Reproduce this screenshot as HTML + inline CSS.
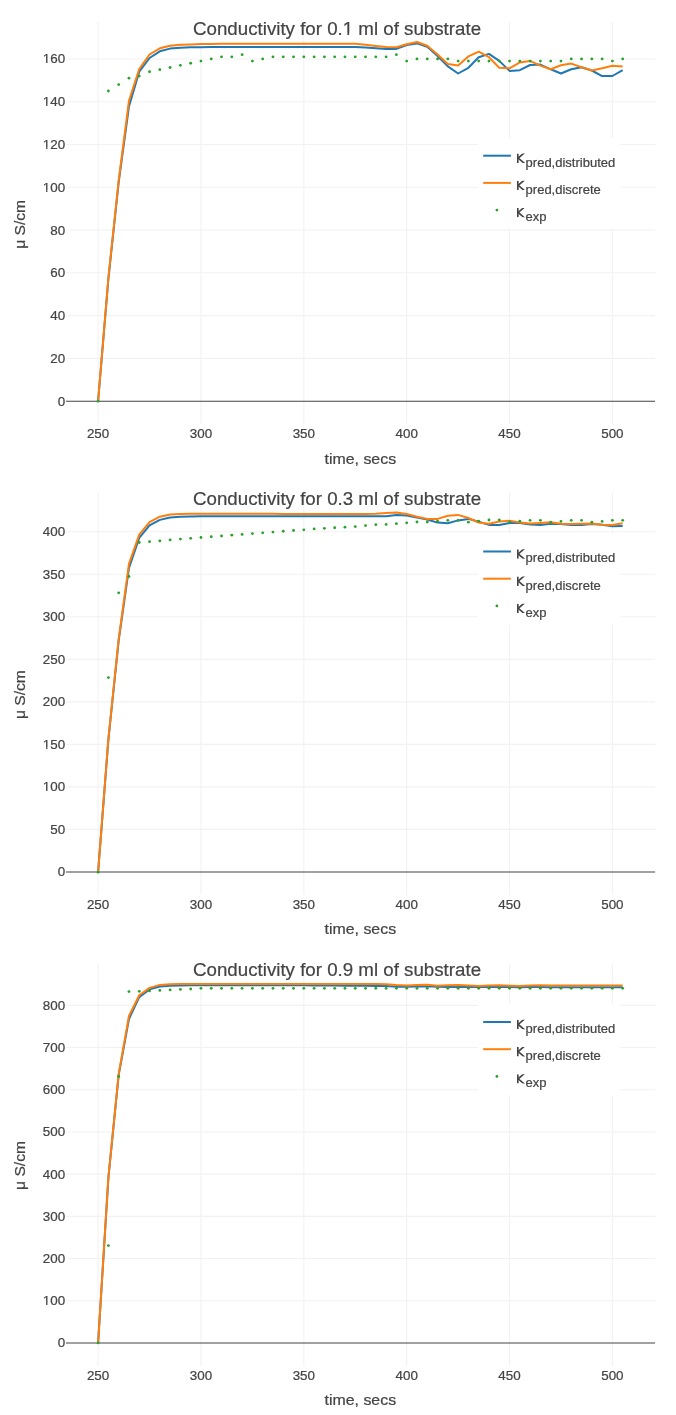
<!DOCTYPE html>
<html><head><meta charset="utf-8"><title>Conductivity</title>
<style>html,body{margin:0;padding:0;background:#fff}body{width:676px;height:1415px;overflow:hidden}svg{will-change:transform}text{stroke:#444;stroke-width:0.22px}</style>
</head><body>
<svg width="676" height="1415" viewBox="0 0 676 1415" style="display:block;font-family:'Liberation Sans',sans-serif">
<defs><clipPath id="kc"><rect x="-0.2" y="-9.4" width="9" height="9.4"/></clipPath></defs>
<rect width="676" height="1415" fill="#fff"/>
<path d="M98.10,22.00V423.85M200.96,22.00V423.85M303.82,22.00V423.85M406.68,22.00V423.85M509.54,22.00V423.85M612.40,22.00V423.85M66.00,358.37H655.10M66.00,315.60H655.10M66.00,272.82H655.10M66.00,230.05H655.10M66.00,187.27H655.10M66.00,144.49H655.10M66.00,101.72H655.10M66.00,58.94H655.10" stroke="#f2f2f2" stroke-width="1.08" fill="none"/>
<path d="M66.00,401.15H655.10" stroke="#444444" stroke-width="1.05" fill="none"/>
<polyline points="98.10,401.10 108.39,278.80 118.67,182.30 128.96,106.50 139.24,71.70 149.53,58.00 159.82,51.30 170.10,48.60 180.39,47.70 190.67,47.30 200.96,47.15 211.25,47.05 221.53,47.00 231.82,47.00 242.10,47.00 252.39,47.00 262.68,47.00 272.96,47.00 283.25,47.00 293.53,47.00 303.82,47.00 314.11,47.00 324.39,47.00 334.68,47.00 344.96,47.00 355.25,46.95 365.54,47.50 375.82,48.30 386.11,48.90 396.39,48.90 406.68,45.10 416.97,43.40 427.25,46.80 437.54,56.00 447.82,66.40 458.11,73.50 468.40,67.80 478.68,57.20 488.97,53.90 499.25,60.90 509.54,70.90 519.83,70.20 530.11,65.00 540.40,64.60 550.68,69.30 560.97,73.50 571.26,69.30 581.54,67.20 591.83,70.50 602.11,76.10 612.40,76.00 622.69,70.10" fill="none" stroke="#1f77b4" stroke-width="2.0" stroke-linejoin="round" stroke-linecap="butt"/>
<polyline points="98.10,401.10 108.39,277.80 118.67,180.50 128.96,100.80 139.24,69.00 149.53,54.50 159.82,48.30 170.10,45.70 180.39,44.80 190.67,44.40 200.96,44.10 211.25,43.95 221.53,43.85 231.82,43.80 242.10,43.80 252.39,43.80 262.68,43.80 272.96,43.80 283.25,43.80 293.53,43.80 303.82,43.80 314.11,43.80 324.39,43.80 334.68,43.80 344.96,43.80 355.25,43.80 365.54,44.80 375.82,45.90 386.11,46.90 396.39,47.20 406.68,44.20 416.97,42.00 427.25,45.70 437.54,54.50 447.82,64.10 458.11,65.60 468.40,56.40 478.68,51.70 488.97,57.20 499.25,67.80 509.54,68.30 519.83,62.40 530.11,60.90 540.40,65.60 550.68,69.30 560.97,65.30 571.26,63.60 581.54,67.20 591.83,70.50 602.11,68.30 612.40,65.80 622.69,66.50" fill="none" stroke="#ff7f0e" stroke-width="2.0" stroke-linejoin="round" stroke-linecap="butt"/>
<g fill="#2ca02c"><circle cx="98.10" cy="401.15" r="1.42"/><circle cx="108.39" cy="91.02" r="1.42"/><circle cx="118.67" cy="84.61" r="1.42"/><circle cx="128.96" cy="78.19" r="1.42"/><circle cx="139.24" cy="76.05" r="1.42"/><circle cx="149.53" cy="71.77" r="1.42"/><circle cx="159.82" cy="69.64" r="1.42"/><circle cx="170.10" cy="67.50" r="1.42"/><circle cx="180.39" cy="65.36" r="1.42"/><circle cx="190.67" cy="63.22" r="1.42"/><circle cx="200.96" cy="61.08" r="1.42"/><circle cx="211.25" cy="58.94" r="1.42"/><circle cx="221.53" cy="56.80" r="1.42"/><circle cx="231.82" cy="56.80" r="1.42"/><circle cx="242.10" cy="54.66" r="1.42"/><circle cx="252.39" cy="61.08" r="1.42"/><circle cx="262.68" cy="58.94" r="1.42"/><circle cx="272.96" cy="56.80" r="1.42"/><circle cx="283.25" cy="56.80" r="1.42"/><circle cx="293.53" cy="56.80" r="1.42"/><circle cx="303.82" cy="56.80" r="1.42"/><circle cx="314.11" cy="56.80" r="1.42"/><circle cx="324.39" cy="56.80" r="1.42"/><circle cx="334.68" cy="56.80" r="1.42"/><circle cx="344.96" cy="56.80" r="1.42"/><circle cx="355.25" cy="56.80" r="1.42"/><circle cx="365.54" cy="56.80" r="1.42"/><circle cx="375.82" cy="56.80" r="1.42"/><circle cx="386.11" cy="56.80" r="1.42"/><circle cx="396.39" cy="54.66" r="1.42"/><circle cx="406.68" cy="61.08" r="1.42"/><circle cx="416.97" cy="58.94" r="1.42"/><circle cx="427.25" cy="58.94" r="1.42"/><circle cx="437.54" cy="58.94" r="1.42"/><circle cx="447.82" cy="58.94" r="1.42"/><circle cx="458.11" cy="61.08" r="1.42"/><circle cx="468.40" cy="61.08" r="1.42"/><circle cx="478.68" cy="61.08" r="1.42"/><circle cx="488.97" cy="61.08" r="1.42"/><circle cx="499.25" cy="61.08" r="1.42"/><circle cx="509.54" cy="61.08" r="1.42"/><circle cx="519.83" cy="61.08" r="1.42"/><circle cx="530.11" cy="61.08" r="1.42"/><circle cx="540.40" cy="61.08" r="1.42"/><circle cx="550.68" cy="61.08" r="1.42"/><circle cx="560.97" cy="61.08" r="1.42"/><circle cx="571.26" cy="58.94" r="1.42"/><circle cx="581.54" cy="58.94" r="1.42"/><circle cx="591.83" cy="58.94" r="1.42"/><circle cx="602.11" cy="58.94" r="1.42"/><circle cx="612.40" cy="61.08" r="1.42"/><circle cx="622.69" cy="58.94" r="1.42"/></g>
<g font-size="13.4" fill="#444444" text-anchor="middle"><text x="98.10" y="438.20">250</text><text x="200.96" y="438.20">300</text><text x="303.82" y="438.20">350</text><text x="406.68" y="438.20">400</text><text x="509.54" y="438.20">450</text><text x="612.40" y="438.20">500</text></g>
<g font-size="13.4" fill="#444444" text-anchor="end"><text x="65.2" y="405.65">0</text><text x="65.2" y="362.87">20</text><text x="65.2" y="320.10">40</text><text x="65.2" y="277.32">60</text><text x="65.2" y="234.55">80</text><text x="65.2" y="191.77">100</text><text x="65.2" y="148.99">120</text><text x="65.2" y="106.22">140</text><text x="65.2" y="63.44">160</text></g>
<rect x="42.44" y="190.36" width="3.71" height="2.14" fill="#fff"/><rect x="47.44" y="190.36" width="2.64" height="2.14" fill="#fff"/>
<rect x="42.44" y="147.59" width="3.71" height="2.14" fill="#fff"/><rect x="47.44" y="147.59" width="2.64" height="2.14" fill="#fff"/>
<rect x="42.44" y="104.81" width="3.71" height="2.14" fill="#fff"/><rect x="47.44" y="104.81" width="2.64" height="2.14" fill="#fff"/>
<rect x="42.44" y="62.04" width="3.71" height="2.14" fill="#fff"/><rect x="47.44" y="62.04" width="2.64" height="2.14" fill="#fff"/>
<text x="337.05" y="34.80" font-size="19.1" fill="#444444" text-anchor="middle" textLength="288" lengthAdjust="spacingAndGlyphs">Conductivity for 0.1 ml of substrate</text>
<rect x="342.20" y="32.79" width="5.18" height="3.06" fill="#fff"/><rect x="349.18" y="32.79" width="3.69" height="3.06" fill="#fff"/>
<text x="360.3" y="463.70" font-size="14.8" fill="#444444" text-anchor="middle" textLength="71.6" lengthAdjust="spacingAndGlyphs">time, secs</text>
<text transform="translate(24.65,224.35) rotate(-90)" font-size="15.3" fill="#444444" text-anchor="middle" textLength="48.9" lengthAdjust="spacingAndGlyphs">μ S/cm</text>
<rect x="477.9" y="138.00" width="142.4" height="91.1" fill="#fff"/>
<path d="M483.2,155.70H510.9" stroke="#1f77b4" stroke-width="2.0" fill="none"/>
<g transform="translate(516.9,162.90)" clip-path="url(#kc)" stroke="#444444" stroke-width="1.65" fill="none" stroke-linejoin="miter"><path d="M0.9,-9.4V0"/><path d="M7.66,-10.32L1.3,-4.8L8.02,0.96"/></g>
<text x="525.6" y="166.50" fill="#444444" font-size="13">pred,distributed</text>
<path d="M483.2,182.90H510.9" stroke="#ff7f0e" stroke-width="2.0" fill="none"/>
<g transform="translate(516.9,190.10)" clip-path="url(#kc)" stroke="#444444" stroke-width="1.65" fill="none" stroke-linejoin="miter"><path d="M0.9,-9.4V0"/><path d="M7.66,-10.32L1.3,-4.8L8.02,0.96"/></g>
<text x="525.6" y="193.70" fill="#444444" font-size="13">pred,discrete</text>
<circle cx="496.9" cy="210.10" r="1.4" fill="#2ca02c"/>
<g transform="translate(516.9,217.30)" clip-path="url(#kc)" stroke="#444444" stroke-width="1.65" fill="none" stroke-linejoin="miter"><path d="M0.9,-9.4V0"/><path d="M7.66,-10.32L1.3,-4.8L8.02,0.96"/></g>
<text x="525.6" y="220.90" fill="#444444" font-size="13">exp</text>
<path d="M98.10,492.85V894.70M200.96,492.85V894.70M303.82,492.85V894.70M406.68,492.85V894.70M509.54,492.85V894.70M612.40,492.85V894.70M66.00,829.39H655.10M66.00,786.88H655.10M66.00,744.36H655.10M66.00,701.85H655.10M66.00,659.34H655.10M66.00,616.83H655.10M66.00,574.31H655.10M66.00,531.80H655.10" stroke="#f2f2f2" stroke-width="1.08" fill="none"/>
<path d="M66.00,871.90H655.10" stroke="#444444" stroke-width="1.05" fill="none"/>
<polyline points="98.10,872.20 108.39,739.70 118.67,640.70 128.96,568.00 139.24,537.90 149.53,525.30 159.82,519.90 170.10,517.50 180.39,516.70 190.67,516.40 200.96,516.30 211.25,516.30 221.53,516.30 231.82,516.30 242.10,516.30 252.39,516.30 262.68,516.30 272.96,516.30 283.25,516.30 293.53,516.30 303.82,516.30 314.11,516.30 324.39,516.30 334.68,516.30 344.96,516.30 355.25,516.30 365.54,516.30 375.82,516.30 386.11,516.30 396.39,515.10 406.68,515.40 416.97,517.50 427.25,519.50 437.54,522.60 447.82,523.20 458.11,520.40 468.40,518.90 478.68,521.70 488.97,524.90 499.25,525.10 509.54,522.90 519.83,522.90 530.11,524.50 540.40,525.10 550.68,523.70 560.97,524.00 571.26,525.10 581.54,524.90 591.83,524.10 602.11,524.70 612.40,526.20 622.69,525.90" fill="none" stroke="#1f77b4" stroke-width="2.0" stroke-linejoin="round" stroke-linecap="butt"/>
<polyline points="98.10,872.20 108.39,738.70 118.67,639.20 128.96,563.80 139.24,534.60 149.53,522.10 159.82,516.70 170.10,514.60 180.39,513.90 190.67,513.70 200.96,513.70 211.25,513.70 221.53,513.70 231.82,513.80 242.10,513.80 252.39,513.80 262.68,513.80 272.96,513.80 283.25,513.90 293.53,513.90 303.82,513.90 314.11,513.90 324.39,514.00 334.68,514.00 344.96,514.00 355.25,514.05 365.54,513.90 375.82,513.80 386.11,512.90 396.39,512.60 406.68,514.05 416.97,516.70 427.25,518.90 437.54,518.90 447.82,515.80 458.11,514.90 468.40,518.00 478.68,522.50 488.97,523.70 499.25,521.40 509.54,520.70 519.83,522.50 530.11,523.50 540.40,522.90 550.68,522.20 560.97,523.70 571.26,524.10 581.54,523.70 591.83,523.40 602.11,524.70 612.40,525.10 622.69,523.20" fill="none" stroke="#ff7f0e" stroke-width="2.0" stroke-linejoin="round" stroke-linecap="butt"/>
<g fill="#2ca02c"><circle cx="98.10" cy="872.20" r="1.42"/><circle cx="108.39" cy="677.60" r="1.42"/><circle cx="118.67" cy="592.80" r="1.42"/><circle cx="128.96" cy="576.50" r="1.42"/><circle cx="139.24" cy="542.50" r="1.42"/><circle cx="149.53" cy="541.70" r="1.42"/><circle cx="159.82" cy="540.90" r="1.42"/><circle cx="170.10" cy="539.90" r="1.42"/><circle cx="180.39" cy="539.10" r="1.42"/><circle cx="190.67" cy="538.30" r="1.42"/><circle cx="200.96" cy="537.52" r="1.42"/><circle cx="211.25" cy="536.74" r="1.42"/><circle cx="221.53" cy="535.96" r="1.42"/><circle cx="231.82" cy="535.18" r="1.42"/><circle cx="242.10" cy="534.40" r="1.42"/><circle cx="252.39" cy="533.62" r="1.42"/><circle cx="262.68" cy="532.84" r="1.42"/><circle cx="272.96" cy="532.06" r="1.42"/><circle cx="283.25" cy="531.28" r="1.42"/><circle cx="293.53" cy="530.50" r="1.42"/><circle cx="303.82" cy="529.80" r="1.42"/><circle cx="314.11" cy="528.90" r="1.42"/><circle cx="324.39" cy="528.33" r="1.42"/><circle cx="334.68" cy="527.75" r="1.42"/><circle cx="344.96" cy="527.17" r="1.42"/><circle cx="355.25" cy="526.60" r="1.42"/><circle cx="365.54" cy="525.60" r="1.42"/><circle cx="375.82" cy="524.70" r="1.42"/><circle cx="386.11" cy="524.40" r="1.42"/><circle cx="396.39" cy="523.70" r="1.42"/><circle cx="406.68" cy="522.80" r="1.42"/><circle cx="416.97" cy="522.00" r="1.42"/><circle cx="427.25" cy="522.00" r="1.42"/><circle cx="437.54" cy="521.20" r="1.42"/><circle cx="447.82" cy="520.30" r="1.42"/><circle cx="458.11" cy="520.30" r="1.42"/><circle cx="468.40" cy="522.20" r="1.42"/><circle cx="478.68" cy="521.20" r="1.42"/><circle cx="488.97" cy="520.00" r="1.42"/><circle cx="499.25" cy="520.00" r="1.42"/><circle cx="509.54" cy="521.90" r="1.42"/><circle cx="519.83" cy="521.20" r="1.42"/><circle cx="530.11" cy="520.30" r="1.42"/><circle cx="540.40" cy="520.30" r="1.42"/><circle cx="550.68" cy="522.20" r="1.42"/><circle cx="560.97" cy="521.40" r="1.42"/><circle cx="571.26" cy="520.30" r="1.42"/><circle cx="581.54" cy="520.30" r="1.42"/><circle cx="591.83" cy="522.20" r="1.42"/><circle cx="602.11" cy="521.40" r="1.42"/><circle cx="612.40" cy="520.30" r="1.42"/><circle cx="622.69" cy="520.30" r="1.42"/></g>
<g font-size="13.4" fill="#444444" text-anchor="middle"><text x="98.10" y="908.90">250</text><text x="200.96" y="908.90">300</text><text x="303.82" y="908.90">350</text><text x="406.68" y="908.90">400</text><text x="509.54" y="908.90">450</text><text x="612.40" y="908.90">500</text></g>
<g font-size="13.4" fill="#444444" text-anchor="end"><text x="65.2" y="876.40">0</text><text x="65.2" y="833.89">50</text><text x="65.2" y="791.38">100</text><text x="65.2" y="748.86">150</text><text x="65.2" y="706.35">200</text><text x="65.2" y="663.84">250</text><text x="65.2" y="621.33">300</text><text x="65.2" y="578.81">350</text><text x="65.2" y="536.30">400</text></g>
<rect x="42.44" y="789.97" width="3.71" height="2.14" fill="#fff"/><rect x="47.44" y="789.97" width="2.64" height="2.14" fill="#fff"/>
<rect x="42.44" y="747.46" width="3.71" height="2.14" fill="#fff"/><rect x="47.44" y="747.46" width="2.64" height="2.14" fill="#fff"/>
<text x="337.05" y="505.00" font-size="19.1" fill="#444444" text-anchor="middle" textLength="288" lengthAdjust="spacingAndGlyphs">Conductivity for 0.3 ml of substrate</text>
<text x="360.3" y="933.85" font-size="14.8" fill="#444444" text-anchor="middle" textLength="71.6" lengthAdjust="spacingAndGlyphs">time, secs</text>
<text transform="translate(24.65,694.65) rotate(-90)" font-size="15.3" fill="#444444" text-anchor="middle" textLength="48.9" lengthAdjust="spacingAndGlyphs">μ S/cm</text>
<rect x="477.9" y="533.80" width="142.4" height="91.1" fill="#fff"/>
<path d="M483.2,551.50H510.9" stroke="#1f77b4" stroke-width="2.0" fill="none"/>
<g transform="translate(516.9,558.70)" clip-path="url(#kc)" stroke="#444444" stroke-width="1.65" fill="none" stroke-linejoin="miter"><path d="M0.9,-9.4V0"/><path d="M7.66,-10.32L1.3,-4.8L8.02,0.96"/></g>
<text x="525.6" y="562.30" fill="#444444" font-size="13">pred,distributed</text>
<path d="M483.2,578.70H510.9" stroke="#ff7f0e" stroke-width="2.0" fill="none"/>
<g transform="translate(516.9,585.90)" clip-path="url(#kc)" stroke="#444444" stroke-width="1.65" fill="none" stroke-linejoin="miter"><path d="M0.9,-9.4V0"/><path d="M7.66,-10.32L1.3,-4.8L8.02,0.96"/></g>
<text x="525.6" y="589.50" fill="#444444" font-size="13">pred,discrete</text>
<circle cx="496.9" cy="605.90" r="1.4" fill="#2ca02c"/>
<g transform="translate(516.9,613.10)" clip-path="url(#kc)" stroke="#444444" stroke-width="1.65" fill="none" stroke-linejoin="miter"><path d="M0.9,-9.4V0"/><path d="M7.66,-10.32L1.3,-4.8L8.02,0.96"/></g>
<text x="525.6" y="616.70" fill="#444444" font-size="13">exp</text>
<path d="M98.10,963.70V1365.70M200.96,963.70V1365.70M303.82,963.70V1365.70M406.68,963.70V1365.70M509.54,963.70V1365.70M612.40,963.70V1365.70M66.00,1300.71H655.10M66.00,1258.52H655.10M66.00,1216.34H655.10M66.00,1174.15H655.10M66.00,1131.96H655.10M66.00,1089.77H655.10M66.00,1047.58H655.10M66.00,1005.40H655.10" stroke="#f2f2f2" stroke-width="1.08" fill="none"/>
<path d="M66.00,1342.90H655.10" stroke="#444444" stroke-width="1.05" fill="none"/>
<polyline points="98.10,1342.90 108.39,1177.90 118.67,1075.10 128.96,1019.00 139.24,997.10 149.53,989.40 159.82,986.50 170.10,985.70 180.39,985.40 190.67,985.20 200.96,985.20 211.25,985.20 221.53,985.20 231.82,985.20 242.10,985.20 252.39,985.20 262.68,985.20 272.96,985.20 283.25,985.20 293.53,985.20 303.82,985.30 314.11,985.40 324.39,985.50 334.68,985.60 344.96,985.70 355.25,985.80 365.54,985.80 375.82,985.90 386.11,986.00 396.39,986.70 406.68,986.70 416.97,986.60 427.25,986.30 437.54,986.80 447.82,986.90 458.11,986.80 468.40,987.00 478.68,987.10 488.97,987.00 499.25,987.00 509.54,987.10 519.83,987.20 530.11,987.10 540.40,987.10 550.68,987.20 560.97,987.20 571.26,987.20 581.54,987.20 591.83,987.20 602.11,987.20 612.40,987.20 622.69,987.20" fill="none" stroke="#1f77b4" stroke-width="2.0" stroke-linejoin="round" stroke-linecap="butt"/>
<polyline points="98.10,1342.90 108.39,1177.10 118.67,1074.10 128.96,1016.00 139.24,995.30 149.53,987.90 159.82,984.90 170.10,984.20 180.39,984.00 190.67,983.90 200.96,983.90 211.25,983.90 221.53,983.90 231.82,983.90 242.10,983.90 252.39,983.90 262.68,983.90 272.96,983.90 283.25,983.90 293.53,983.90 303.82,983.90 314.11,983.90 324.39,983.90 334.68,983.90 344.96,983.90 355.25,983.95 365.54,984.00 375.82,984.10 386.11,984.30 396.39,985.10 406.68,985.40 416.97,984.90 427.25,984.80 437.54,985.80 447.82,985.30 458.11,985.00 468.40,985.60 478.68,986.00 488.97,985.40 499.25,985.30 509.54,985.70 519.83,986.00 530.11,985.40 540.40,985.30 550.68,985.50 560.97,985.50 571.26,985.40 581.54,985.40 591.83,985.50 602.11,985.50 612.40,985.50 622.69,985.40" fill="none" stroke="#ff7f0e" stroke-width="2.0" stroke-linejoin="round" stroke-linecap="butt"/>
<g fill="#2ca02c"><circle cx="98.10" cy="1342.90" r="1.42"/><circle cx="108.39" cy="1245.60" r="1.42"/><circle cx="118.67" cy="1076.40" r="1.42"/><circle cx="128.96" cy="991.60" r="1.42"/><circle cx="139.24" cy="991.30" r="1.42"/><circle cx="149.53" cy="990.90" r="1.42"/><circle cx="159.82" cy="990.40" r="1.42"/><circle cx="170.10" cy="989.90" r="1.42"/><circle cx="180.39" cy="989.40" r="1.42"/><circle cx="190.67" cy="989.00" r="1.42"/><circle cx="200.96" cy="988.30" r="1.42"/><circle cx="211.25" cy="988.30" r="1.42"/><circle cx="221.53" cy="988.30" r="1.42"/><circle cx="231.82" cy="988.30" r="1.42"/><circle cx="242.10" cy="988.30" r="1.42"/><circle cx="252.39" cy="988.30" r="1.42"/><circle cx="262.68" cy="988.30" r="1.42"/><circle cx="272.96" cy="988.30" r="1.42"/><circle cx="283.25" cy="988.30" r="1.42"/><circle cx="293.53" cy="988.30" r="1.42"/><circle cx="303.82" cy="988.30" r="1.42"/><circle cx="314.11" cy="988.30" r="1.42"/><circle cx="324.39" cy="988.30" r="1.42"/><circle cx="334.68" cy="988.30" r="1.42"/><circle cx="344.96" cy="988.30" r="1.42"/><circle cx="355.25" cy="988.30" r="1.42"/><circle cx="365.54" cy="988.30" r="1.42"/><circle cx="375.82" cy="988.30" r="1.42"/><circle cx="386.11" cy="988.30" r="1.42"/><circle cx="396.39" cy="988.30" r="1.42"/><circle cx="406.68" cy="988.30" r="1.42"/><circle cx="416.97" cy="988.30" r="1.42"/><circle cx="427.25" cy="988.30" r="1.42"/><circle cx="437.54" cy="988.30" r="1.42"/><circle cx="447.82" cy="988.30" r="1.42"/><circle cx="458.11" cy="988.30" r="1.42"/><circle cx="468.40" cy="988.30" r="1.42"/><circle cx="478.68" cy="988.30" r="1.42"/><circle cx="488.97" cy="988.30" r="1.42"/><circle cx="499.25" cy="988.30" r="1.42"/><circle cx="509.54" cy="988.30" r="1.42"/><circle cx="519.83" cy="988.30" r="1.42"/><circle cx="530.11" cy="988.30" r="1.42"/><circle cx="540.40" cy="988.30" r="1.42"/><circle cx="550.68" cy="988.30" r="1.42"/><circle cx="560.97" cy="988.30" r="1.42"/><circle cx="571.26" cy="988.30" r="1.42"/><circle cx="581.54" cy="988.30" r="1.42"/><circle cx="591.83" cy="988.30" r="1.42"/><circle cx="602.11" cy="988.30" r="1.42"/><circle cx="612.40" cy="988.30" r="1.42"/><circle cx="622.69" cy="988.30" r="1.42"/></g>
<g font-size="13.4" fill="#444444" text-anchor="middle"><text x="98.10" y="1379.80">250</text><text x="200.96" y="1379.80">300</text><text x="303.82" y="1379.80">350</text><text x="406.68" y="1379.80">400</text><text x="509.54" y="1379.80">450</text><text x="612.40" y="1379.80">500</text></g>
<g font-size="13.4" fill="#444444" text-anchor="end"><text x="65.2" y="1347.40">0</text><text x="65.2" y="1305.21">100</text><text x="65.2" y="1263.02">200</text><text x="65.2" y="1220.84">300</text><text x="65.2" y="1178.65">400</text><text x="65.2" y="1136.46">500</text><text x="65.2" y="1094.27">600</text><text x="65.2" y="1052.08">700</text><text x="65.2" y="1009.90">800</text></g>
<rect x="42.44" y="1303.81" width="3.71" height="2.14" fill="#fff"/><rect x="47.44" y="1303.81" width="2.64" height="2.14" fill="#fff"/>
<text x="337.05" y="975.90" font-size="19.1" fill="#444444" text-anchor="middle" textLength="288" lengthAdjust="spacingAndGlyphs">Conductivity for 0.9 ml of substrate</text>
<text x="360.3" y="1405.30" font-size="14.8" fill="#444444" text-anchor="middle" textLength="71.6" lengthAdjust="spacingAndGlyphs">time, secs</text>
<text transform="translate(24.65,1165.50) rotate(-90)" font-size="15.3" fill="#444444" text-anchor="middle" textLength="48.9" lengthAdjust="spacingAndGlyphs">μ S/cm</text>
<rect x="477.9" y="1004.30" width="142.4" height="91.1" fill="#fff"/>
<path d="M483.2,1022.00H510.9" stroke="#1f77b4" stroke-width="2.0" fill="none"/>
<g transform="translate(516.9,1029.20)" clip-path="url(#kc)" stroke="#444444" stroke-width="1.65" fill="none" stroke-linejoin="miter"><path d="M0.9,-9.4V0"/><path d="M7.66,-10.32L1.3,-4.8L8.02,0.96"/></g>
<text x="525.6" y="1032.80" fill="#444444" font-size="13">pred,distributed</text>
<path d="M483.2,1049.20H510.9" stroke="#ff7f0e" stroke-width="2.0" fill="none"/>
<g transform="translate(516.9,1056.40)" clip-path="url(#kc)" stroke="#444444" stroke-width="1.65" fill="none" stroke-linejoin="miter"><path d="M0.9,-9.4V0"/><path d="M7.66,-10.32L1.3,-4.8L8.02,0.96"/></g>
<text x="525.6" y="1060.00" fill="#444444" font-size="13">pred,discrete</text>
<circle cx="496.9" cy="1076.40" r="1.4" fill="#2ca02c"/>
<g transform="translate(516.9,1083.60)" clip-path="url(#kc)" stroke="#444444" stroke-width="1.65" fill="none" stroke-linejoin="miter"><path d="M0.9,-9.4V0"/><path d="M7.66,-10.32L1.3,-4.8L8.02,0.96"/></g>
<text x="525.6" y="1087.20" fill="#444444" font-size="13">exp</text>
</svg>
</body></html>
